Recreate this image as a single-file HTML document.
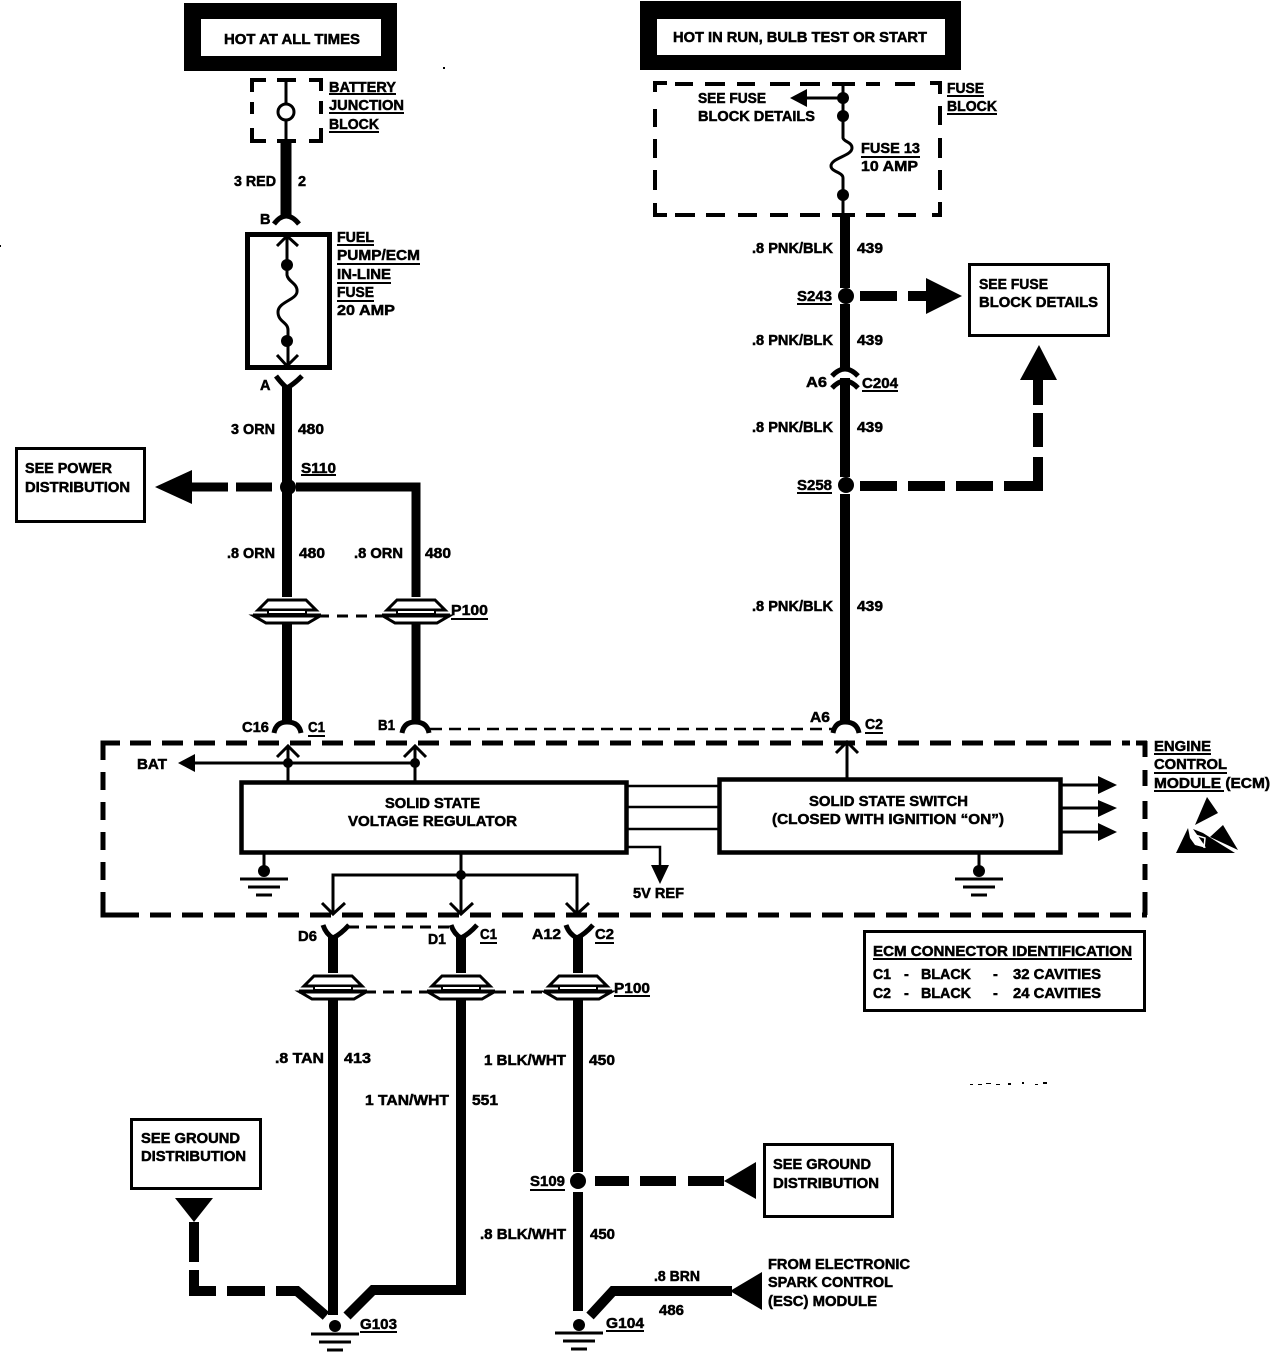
<!DOCTYPE html>
<html><head><meta charset="utf-8"><style>
html,body{margin:0;padding:0;background:#fff}
svg{display:block}
text{font-family:"Liberation Sans",sans-serif;font-weight:bold;font-size:14.5px;fill:#000;stroke:#000;stroke-width:.5}
</style></head><body>
<svg width="1280" height="1352" viewBox="0 0 1280 1352" xmlns="http://www.w3.org/2000/svg">
<defs>
<g id="p100" fill="#fff" stroke="#000" stroke-width="3">
<rect x="-12" y="-2" width="24" height="4" stroke="none"/>
<path d="M-29,11 L-19,1 H19 L29,11 Z" stroke-width="3"/>
<rect x="-19" y="11" width="38" height="4" fill="#fff" stroke-width="2"/>
<path d="M-33,17 L-21,24 H21 L33,17 Z"/>
<path d="M-34,16.5 H34" stroke-width="4"/>
</g>
<g id="gnd" fill="none" stroke="#000">
<circle cx="0" cy="0" r="6" fill="#000" stroke="none"/>
<path d="M-24,8 H24 M-16,16 H16 M-8,24 H8" stroke-width="3"/>
</g>
</defs>
<rect width="1280" height="1352" fill="#fff"/>

<!-- top boxes -->
<rect x="184" y="3" width="213" height="68" fill="#000"/>
<rect x="201" y="19" width="180" height="37" fill="#fff"/>
<rect x="640" y="1" width="321" height="69" fill="#000"/>
<rect x="657" y="19" width="288" height="36" fill="#fff"/>

<g fill="none" stroke="#000">
<!-- battery junction block -->
<path d="M266,80 H252 V92 M252,102 V114 M252,128 V141 H266 M277,80 H296 M277,141 H296 M309,80 H321 V91 M321,101 V114 M321,128 V141 H309" stroke-width="4"/>
<path d="M286,80 V141" stroke-width="3"/>
<circle cx="286" cy="112" r="8" fill="#fff" stroke-width="3"/>
<path d="M286,141 V216" stroke-width="11"/>
<path d="M274,224 Q286,208 299,224" stroke-width="5"/>

<!-- in-line fuse -->
<rect x="247.5" y="234.5" width="82" height="133" stroke-width="5"/>
<path d="M277,246 L287,236 L298,246 M287,236 V265 M287,265 V275 C288,282 298,283 297,292 C296,300 278,302 278,312 C278,322 288,322 288,330 V366 M277,355 L287,366 L298,355" stroke-width="3"/>

<!-- left main -->
<path d="M276,376 Q282,384 287,388 Q294,384 302,376" stroke-width="5"/>
<path d="M287,386 V603 M287,622 V722" stroke-width="10"/>
<path d="M296,487 H416 V603 M416,622 V722" stroke-width="9"/>
<path d="M192,487 H228 M236,487 H272" stroke-width="9"/>
<path d="M274,733 Q276,722 287,722 Q299,722 301,733" stroke-width="5"/>
<path d="M402,733 Q404,722 415,722 Q427,722 429,733" stroke-width="5"/>
<path d="M318,616 H385" stroke-width="3" stroke-dasharray="11 8"/>
<path d="M430,729 H835" stroke-width="2.5" stroke-dasharray="12 7"/>

<!-- right main -->
<path d="M655,92 V83 H667 M655,109 V127 M655,139 V158 M655,170 V190 M655,203 V215 H667 M675,84 H693 M705,84 H725 M737,84 H755 M770,84 H790 M800,84 H820 M866,84 H880 M895,84 H915 M930,83 H940 V94 M940,106 V125 M940,138 V158 M940,170 V190 M940,202 V215 H932 M675,215 H695 M706,215 H725 M738,215 H757 M770,215 H788 M800,215 H820 M866,215 H885 M898,215 H916" stroke-width="4"/>
<path d="M832,84 H855 M832,215 H855" stroke-width="4"/>
<path d="M843,84 V138 C844,142 852,142 852,148 C852,156 831,158 831,166 C831,172 843,172 843,178 V215" stroke-width="3"/>
<path d="M806,98 H843" stroke-width="3"/>
<path d="M845,215 V288 M845,304 V368 M845,378 V477 M845,494 V722" stroke-width="10"/>
<path d="M832,376 Q845,362 858,376 M832,388 Q845,374 858,388" stroke-width="5"/>
<path d="M833,733 Q835,722 845,722 Q857,722 859,733" stroke-width="5"/>
<path d="M860,296 H897 M908,296 H927" stroke-width="10"/>
<path d="M860,486 H897 M908,486 H945 M956,486 H993 M1004,486 H1038 V457 M1038,447 V413 M1038,405 V378" stroke-width="10"/>

<!-- boxes -->
<rect x="16.5" y="448.5" width="128" height="73" stroke-width="3"/>
<rect x="969.5" y="264.5" width="139" height="71" stroke-width="3"/>
<rect x="864.5" y="931.5" width="280" height="79" stroke-width="3"/>
<rect x="131.5" y="1119.5" width="129" height="69" stroke-width="3"/>
<rect x="764.5" y="1144.5" width="128" height="72" stroke-width="3"/>

<!-- ECM dashed -->
<path d="M120,743 H103 V760 M103,772 V790 M103,802 V820 M103,832 V850 M103,862 V880 M103,892 V915 H122" stroke-width="5"/>
<path d="M120,743 H1130" stroke-width="5" stroke-dasharray="21 11" stroke-dashoffset="-10"/>
<path d="M118,915 H1147" stroke-width="5" stroke-dasharray="21 11"/>
<path d="M1145,741 V757 M1145,770 V786 M1145,801 V819 M1145,832 V850 M1145,864 V880 M1145,892 V915" stroke-width="5"/>
<path d="M1136,743 H1147" stroke-width="5"/>

<!-- ECM internals -->
<path d="M288,748 V781 M415,748 V781 M277,757 L288,746 L299,757 M404,757 L415,746 L426,757 M194,763 H415" stroke-width="3"/>
<rect x="241.5" y="782.5" width="385" height="70" stroke-width="4.5"/>
<rect x="719.5" y="779.5" width="341" height="73" stroke-width="4.5"/>
<path d="M628,786 H718 M628,807 H718 M628,829 H718" stroke-width="2.5"/>
<path d="M1062,785 H1098 M1062,808 H1098 M1062,832 H1098" stroke-width="3"/>
<path d="M847,778 V744 M836,753 L847,742 L858,753" stroke-width="3"/>
<path d="M628,847 H660 V866" stroke-width="2.5"/>
<path d="M264,853 V871 M979,853 V871" stroke-width="3"/>
<path d="M461,853 V913 M333,913 V875 H577 V913 M322,903 L333,914 L345,903 M450,903 L461,914 L473,903 M566,903 L577,914 L589,903" stroke-width="3"/>

<!-- lower connectors -->
<path d="M323,925 Q326,934 333,938 Q341,934 349,925 M451,925 Q454,934 461,938 Q469,934 477,925 M566,925 Q569,934 577,938 Q585,934 593,925" stroke-width="5"/>
<path d="M333,936 V976 M333,1000 V1315 M461,936 V976 M461,1000 V1290 H373 L347,1316 M578,936 V976 M578,1000 V1172 M578,1192 V1311 M590,1316 L613,1291 H732" stroke-width="10"/>
<path d="M348,927 H450" stroke-width="3" stroke-dasharray="11 7"/>
<path d="M365,992 H432 M495,992 H548" stroke-width="3" stroke-dasharray="11 7"/>
<path d="M595,1181 H629 M640,1181 H676 M688,1181 H724" stroke-width="10"/>
<path d="M194,1222 V1262 M194,1270 V1291 H216 M227,1291 H265 M276,1291 H297 L326,1316" stroke-width="10"/>
</g>

<g fill="#000" stroke="none">
<!-- dots -->
<circle cx="287" cy="265" r="6"/><circle cx="287" cy="341" r="6"/>
<circle cx="288" cy="487" r="8"/>
<circle cx="843" cy="98" r="6"/><circle cx="843" cy="116" r="6"/><circle cx="843" cy="195" r="6"/>
<circle cx="846" cy="296" r="8"/><circle cx="846" cy="485" r="8"/>
<circle cx="288" cy="763" r="5"/><circle cx="415" cy="763" r="5"/>
<circle cx="461" cy="875" r="5"/>
<circle cx="578" cy="1181" r="8"/>
<!-- arrowheads -->
<path d="M155,487 L192,470 V504 Z"/>
<path d="M962,296 L926,278 V314 Z"/>
<path d="M1039,345 L1020,380 H1057 Z"/>
<path d="M790,98 L807,89 V107 Z"/>
<path d="M178,763 L195,754 V772 Z"/>
<path d="M651,865 H669 L660,884 Z"/>
<path d="M1117,785 L1098,776 V794 Z"/>
<path d="M1117,808 L1098,800 V817 Z"/>
<path d="M1117,832 L1098,823 V841 Z"/>
<path d="M724,1181 L756,1162 V1199 Z"/>
<path d="M730,1291 L762,1272 V1310 Z"/>
<path d="M175,1198 H213 L194,1222 Z"/>
<!-- ESD symbol -->
<path d="M1207,797 L1218,813 L1195,825 Z"/>
<path d="M1223,825 L1238,850 L1210,837 Z"/>
<path d="M1188,828 L1176,853 H1225 L1195,845 L1190,838 Z"/>
<path d="M1193,829 L1203,833 L1222,845 L1235,853 H1208 L1205,846 Z"/>
<!-- specks -->
<path d="M970,1084h3v1h-3z M978,1084h4v1h-4z M986,1083h5v1h-5z M996,1084h4v1h-4z M1008,1083h3v2h-3z M1022,1082h2v2h-2z M1035,1084h3v1h-3z M1043,1082h4v2h-4z M443,67h2v2h-2z M0,245h1v2h-1z"/>
</g>
<path d="M1195,835 L1205,838 L1204,848" fill="none" stroke="#fff" stroke-width="1.5"/>

<use href="#p100" x="287" y="599"/>
<use href="#p100" x="416" y="599"/>
<use href="#p100" x="333" y="975"/>
<use href="#p100" x="461" y="975"/>
<use href="#p100" x="578" y="975"/>
<use href="#gnd" x="264" y="871"/>
<use href="#gnd" x="979" y="871"/>
<use href="#gnd" x="335" y="1326"/>
<use href="#gnd" x="579" y="1325"/>

<!-- underlines -->
<path fill="none" stroke="#000" stroke-width="2" d="M329,94 H396 M329,113 H404 M329,132 H379 M337,245 H374 M337,264 H420 M337,283 H391 M337,301 H374 M301,475 H336 M451,619 H488 M308,736 H325 M865,733 H883 M797,304 H832 M797,493 H832 M862,391 H898 M861,157 H920 M947,96 H984 M947,114 H997 M1154,754 H1211 M1154,773 H1227 M1154,791 H1224 M480,943 H497 M595,943 H614 M614,996 H650 M873,959 H1132 M530,1190 H565 M360,1332 H397 M606,1331 H644"/>

<!-- labels -->
<text x="224" y="44" textLength="136" lengthAdjust="spacingAndGlyphs">HOT AT ALL TIMES</text>
<text x="673" y="42" textLength="254" lengthAdjust="spacingAndGlyphs">HOT IN RUN, BULB TEST OR START</text>
<text x="329" y="92" textLength="67" lengthAdjust="spacingAndGlyphs">BATTERY</text>
<text x="329" y="110" textLength="75" lengthAdjust="spacingAndGlyphs">JUNCTION</text>
<text x="329" y="129" textLength="50" lengthAdjust="spacingAndGlyphs">BLOCK</text>
<text x="234" y="186" textLength="42" lengthAdjust="spacingAndGlyphs">3 RED</text>
<text x="298" y="186">2</text>
<text x="260" y="224">B</text>
<text x="337" y="242" textLength="37" lengthAdjust="spacingAndGlyphs">FUEL</text>
<text x="337" y="260" textLength="83" lengthAdjust="spacingAndGlyphs">PUMP/ECM</text>
<text x="337" y="279" textLength="54" lengthAdjust="spacingAndGlyphs">IN-LINE</text>
<text x="337" y="297" textLength="37" lengthAdjust="spacingAndGlyphs">FUSE</text>
<text x="337" y="315" textLength="58" lengthAdjust="spacingAndGlyphs">20 AMP</text>
<text x="260" y="390">A</text>
<text x="231" y="434" textLength="44" lengthAdjust="spacingAndGlyphs">3 ORN</text>
<text x="298" y="434" textLength="26" lengthAdjust="spacingAndGlyphs">480</text>
<text x="301" y="473" textLength="35" lengthAdjust="spacingAndGlyphs">S110</text>
<text x="25" y="473" textLength="87" lengthAdjust="spacingAndGlyphs">SEE POWER</text>
<text x="25" y="492" textLength="105" lengthAdjust="spacingAndGlyphs">DISTRIBUTION</text>
<text x="227" y="558" textLength="48" lengthAdjust="spacingAndGlyphs">.8 ORN</text>
<text x="299" y="558" textLength="26" lengthAdjust="spacingAndGlyphs">480</text>
<text x="354" y="558" textLength="49" lengthAdjust="spacingAndGlyphs">.8 ORN</text>
<text x="425" y="558" textLength="26" lengthAdjust="spacingAndGlyphs">480</text>
<text x="451" y="615" textLength="37" lengthAdjust="spacingAndGlyphs">P100</text>
<text x="242" y="732" textLength="27" lengthAdjust="spacingAndGlyphs">C16</text>
<text x="308" y="732" textLength="17" lengthAdjust="spacingAndGlyphs">C1</text>
<text x="378" y="730" textLength="17" lengthAdjust="spacingAndGlyphs">B1</text>
<text x="810" y="722" textLength="20" lengthAdjust="spacingAndGlyphs">A6</text>
<text x="865" y="729" textLength="18" lengthAdjust="spacingAndGlyphs">C2</text>
<text x="137" y="769" textLength="30" lengthAdjust="spacingAndGlyphs">BAT</text>
<text x="385" y="808" textLength="95" lengthAdjust="spacingAndGlyphs">SOLID STATE</text>
<text x="348" y="826" textLength="169" lengthAdjust="spacingAndGlyphs">VOLTAGE REGULATOR</text>
<text x="809" y="806" textLength="159" lengthAdjust="spacingAndGlyphs">SOLID STATE SWITCH</text>
<text x="772" y="824" textLength="232" lengthAdjust="spacingAndGlyphs">(CLOSED WITH IGNITION “ON”)</text>
<text x="633" y="898" textLength="51" lengthAdjust="spacingAndGlyphs">5V REF</text>
<text x="1154" y="751" textLength="57" lengthAdjust="spacingAndGlyphs">ENGINE</text>
<text x="1154" y="769" textLength="73" lengthAdjust="spacingAndGlyphs">CONTROL</text>
<text x="1154" y="788" textLength="116" lengthAdjust="spacingAndGlyphs">MODULE (ECM)</text>
<text x="298" y="941" textLength="19" lengthAdjust="spacingAndGlyphs">D6</text>
<text x="428" y="944" textLength="18" lengthAdjust="spacingAndGlyphs">D1</text>
<text x="480" y="939" textLength="17" lengthAdjust="spacingAndGlyphs">C1</text>
<text x="532" y="939" textLength="29" lengthAdjust="spacingAndGlyphs">A12</text>
<text x="595" y="939" textLength="19" lengthAdjust="spacingAndGlyphs">C2</text>
<text x="614" y="993" textLength="36" lengthAdjust="spacingAndGlyphs">P100</text>
<text x="873" y="956" textLength="259" lengthAdjust="spacingAndGlyphs">ECM CONNECTOR IDENTIFICATION</text>
<text x="873" y="979" textLength="18" lengthAdjust="spacingAndGlyphs">C1</text>
<text x="904" y="979">-</text>
<text x="921" y="979" textLength="50" lengthAdjust="spacingAndGlyphs">BLACK</text>
<text x="993" y="979">-</text>
<text x="1013" y="979" textLength="88" lengthAdjust="spacingAndGlyphs">32 CAVITIES</text>
<text x="873" y="998" textLength="18" lengthAdjust="spacingAndGlyphs">C2</text>
<text x="904" y="998">-</text>
<text x="921" y="998" textLength="50" lengthAdjust="spacingAndGlyphs">BLACK</text>
<text x="993" y="998">-</text>
<text x="1013" y="998" textLength="88" lengthAdjust="spacingAndGlyphs">24 CAVITIES</text>
<text x="275" y="1063" textLength="49" lengthAdjust="spacingAndGlyphs">.8 TAN</text>
<text x="344" y="1063" textLength="27" lengthAdjust="spacingAndGlyphs">413</text>
<text x="365" y="1105" textLength="84" lengthAdjust="spacingAndGlyphs">1 TAN/WHT</text>
<text x="472" y="1105" textLength="26" lengthAdjust="spacingAndGlyphs">551</text>
<text x="484" y="1065" textLength="82" lengthAdjust="spacingAndGlyphs">1 BLK/WHT</text>
<text x="589" y="1065" textLength="26" lengthAdjust="spacingAndGlyphs">450</text>
<text x="141" y="1143" textLength="99" lengthAdjust="spacingAndGlyphs">SEE GROUND</text>
<text x="141" y="1161" textLength="105" lengthAdjust="spacingAndGlyphs">DISTRIBUTION</text>
<text x="773" y="1169" textLength="98" lengthAdjust="spacingAndGlyphs">SEE GROUND</text>
<text x="773" y="1188" textLength="106" lengthAdjust="spacingAndGlyphs">DISTRIBUTION</text>
<text x="530" y="1186" textLength="35" lengthAdjust="spacingAndGlyphs">S109</text>
<text x="480" y="1239" textLength="86" lengthAdjust="spacingAndGlyphs">.8 BLK/WHT</text>
<text x="590" y="1239" textLength="25" lengthAdjust="spacingAndGlyphs">450</text>
<text x="654" y="1281" textLength="46" lengthAdjust="spacingAndGlyphs">.8 BRN</text>
<text x="659" y="1315" textLength="25" lengthAdjust="spacingAndGlyphs">486</text>
<text x="768" y="1269" textLength="142" lengthAdjust="spacingAndGlyphs">FROM ELECTRONIC</text>
<text x="768" y="1287" textLength="125" lengthAdjust="spacingAndGlyphs">SPARK CONTROL</text>
<text x="768" y="1306" textLength="109" lengthAdjust="spacingAndGlyphs">(ESC) MODULE</text>
<text x="360" y="1329" textLength="37" lengthAdjust="spacingAndGlyphs">G103</text>
<text x="606" y="1328" textLength="38" lengthAdjust="spacingAndGlyphs">G104</text>
<text x="797" y="301" textLength="35" lengthAdjust="spacingAndGlyphs">S243</text>
<text x="797" y="490" textLength="35" lengthAdjust="spacingAndGlyphs">S258</text>
<text x="752" y="253" textLength="81" lengthAdjust="spacingAndGlyphs">.8 PNK/BLK</text>
<text x="857" y="253" textLength="26" lengthAdjust="spacingAndGlyphs">439</text>
<text x="752" y="345" textLength="81" lengthAdjust="spacingAndGlyphs">.8 PNK/BLK</text>
<text x="857" y="345" textLength="26" lengthAdjust="spacingAndGlyphs">439</text>
<text x="752" y="432" textLength="81" lengthAdjust="spacingAndGlyphs">.8 PNK/BLK</text>
<text x="857" y="432" textLength="26" lengthAdjust="spacingAndGlyphs">439</text>
<text x="752" y="611" textLength="81" lengthAdjust="spacingAndGlyphs">.8 PNK/BLK</text>
<text x="857" y="611" textLength="26" lengthAdjust="spacingAndGlyphs">439</text>
<text x="806" y="387" textLength="21" lengthAdjust="spacingAndGlyphs">A6</text>
<text x="862" y="388" textLength="36" lengthAdjust="spacingAndGlyphs">C204</text>
<text x="979" y="289" textLength="69" lengthAdjust="spacingAndGlyphs">SEE FUSE</text>
<text x="979" y="307" textLength="119" lengthAdjust="spacingAndGlyphs">BLOCK DETAILS</text>
<text x="698" y="103" textLength="68" lengthAdjust="spacingAndGlyphs">SEE FUSE</text>
<text x="698" y="121" textLength="117" lengthAdjust="spacingAndGlyphs">BLOCK DETAILS</text>
<text x="861" y="153" textLength="59" lengthAdjust="spacingAndGlyphs">FUSE 13</text>
<text x="861" y="171" textLength="57" lengthAdjust="spacingAndGlyphs">10 AMP</text>
<text x="947" y="93" textLength="37" lengthAdjust="spacingAndGlyphs">FUSE</text>
<text x="947" y="111" textLength="50" lengthAdjust="spacingAndGlyphs">BLOCK</text>
</svg>
</body></html>
